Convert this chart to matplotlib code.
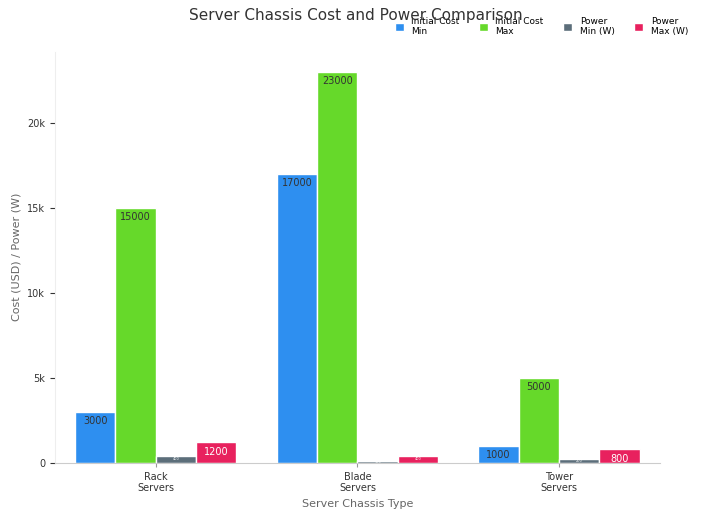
import numpy as np
import matplotlib.pyplot as plt
from matplotlib.ticker import FuncFormatter

categories = ['Rack\nServers', 'Blade\nServers', 'Tower\nServers']
series_names = ['Initial Cost\nMin', 'Initial Cost\nMax', 'Power\nMin (W)', 'Power\nMax (W)']
cost_min = [3000, 17000, 1000]
cost_max = [15000, 23000, 5000]
power_min = [400, 100, 200]
power_max = [1200, 400, 800]
colors = ['#2E8FF0', '#66D92A', '#5C6E7A', '#E8215E']

fig, ax = plt.subplots(figsize=(7.05, 5.16), dpi=100)
fig.subplots_adjust(left=0.078, right=0.936, top=0.9, bottom=0.103)

x = np.arange(len(categories))
width = 0.2
for i, (vals, name, c) in enumerate(zip([cost_min, cost_max, power_min, power_max], series_names, colors)):
    pos = x + (i - 1.5) * width
    bars = ax.bar(pos, vals, width, color=c, edgecolor='white', linewidth=1, label=name)
    for b, v in zip(bars, vals):
        h = b.get_height()
        if h >= 700:
            tc = 'white' if c == '#E8215E' else '#333333'
            ax.text(b.get_x() + b.get_width() / 2, h - 250, str(v), ha='center', va='top',
                    fontsize=7, color=tc)
        else:
            ax.text(b.get_x() + b.get_width() / 2, h / 2, str(v), ha='center', va='center',
                    fontsize=2.5, color='white')

ax.set_xlim(-0.5, 2.5)
ax.set_ylim(0, 24200)
ax.set_xticks(x)
ax.set_xticklabels(categories, fontsize=7, color='#333333')
ax.yaxis.set_major_formatter(FuncFormatter(lambda v, p: '0' if v == 0 else f'{int(v/1000)}k'))
ax.tick_params(axis='y', labelsize=7, colors='#333333')
ax.tick_params(axis='x', length=3, colors='#999999', labelcolor='#333333')
for s in ['top', 'right']:
    ax.spines[s].set_visible(False)
ax.spines['left'].set_color('#eeeeee')
ax.spines['bottom'].set_color('#cccccc')
ax.set_xlabel('Server Chassis Type', fontsize=8, color='#666666')
ax.set_ylabel('Cost (USD) / Power (W)', fontsize=8, color='#666666')
fig.suptitle('Server Chassis Cost and Power Comparison', fontsize=11, color='#333333', x=0.505, y=0.985)
ax.legend(loc='upper right', bbox_to_anchor=(1.06, 1.105), ncol=4, frameon=False, fontsize=6.5,
          handlelength=1.0, handleheight=1.0, columnspacing=2.2)

fig.savefig('out.png', dpi=100)
